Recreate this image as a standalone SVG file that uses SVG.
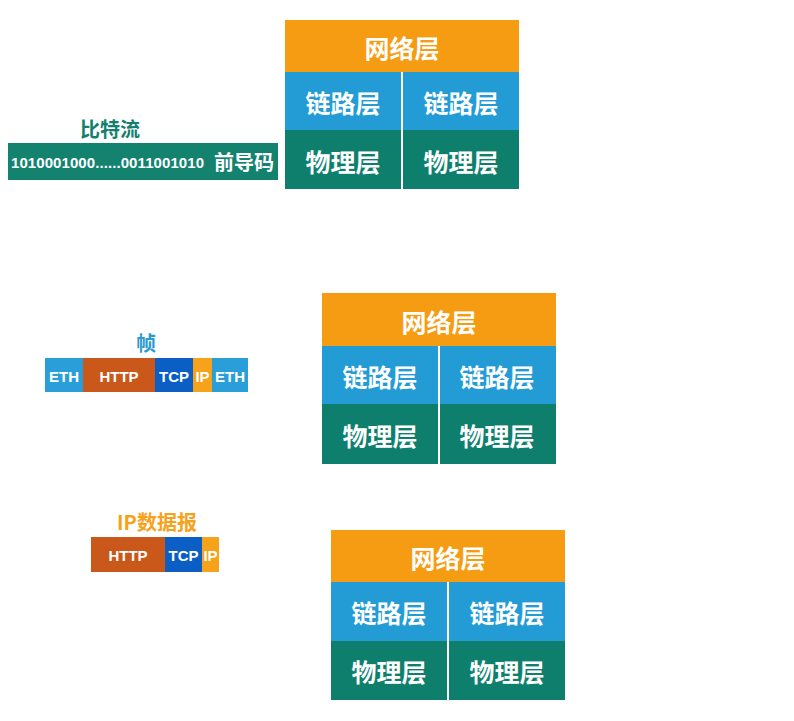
<svg xmlns="http://www.w3.org/2000/svg" width="794" height="721" viewBox="0 0 794 721">
<style>
.bg{fill:#ffffff}
.net{fill:#F59C12}
.link{fill:#239CD6}
.phy{fill:#0F7F6D}
.div{stroke:#ffffff;stroke-width:2}
.lbl{font-family:"Noto Sans CJK SC","Noto Sans",sans-serif;font-weight:bold;fill:#ffffff;font-size:25px;text-anchor:middle;dominant-baseline:central}
.seg{font-family:"Liberation Sans","Noto Sans CJK SC",sans-serif;font-weight:bold;fill:#ffffff;font-size:15px;text-anchor:middle;dominant-baseline:central}
.ttl{font-family:"Noto Sans CJK SC","Noto Sans",sans-serif;font-weight:bold;font-size:20px;text-anchor:middle}
.eth{fill:#2A9ED8}
.http{fill:#C9581A}
.tcp{fill:#0B5EC4}
.ip{fill:#F7A21B}
</style>
<rect class="bg" x="0" y="0" width="794" height="721"/>

<g id="stack1">
<rect class="net" x="285" y="20" width="234" height="52"/>
<rect class="link" x="285" y="72" width="234" height="58"/>
<rect class="phy" x="285" y="130" width="234" height="59"/>
<line class="div" x1="402" y1="72" x2="402" y2="189"/>
<text class="lbl" x="402" y="47">网络层</text>
<text class="lbl" x="343" y="102">链路层</text>
<text class="lbl" x="461" y="102">链路层</text>
<text class="lbl" x="343" y="161">物理层</text>
<text class="lbl" x="461" y="161">物理层</text>
</g>

<g id="stack2">
<rect class="net" x="322" y="293" width="234" height="53"/>
<rect class="link" x="322" y="346" width="234" height="58"/>
<rect class="phy" x="322" y="404" width="234" height="60"/>
<line class="div" x1="439" y1="346" x2="439" y2="464"/>
<text class="lbl" x="439" y="321">网络层</text>
<text class="lbl" x="380" y="376">链路层</text>
<text class="lbl" x="497" y="376">链路层</text>
<text class="lbl" x="380" y="435">物理层</text>
<text class="lbl" x="497" y="435">物理层</text>
</g>

<g id="stack3">
<rect class="net" x="331" y="530" width="234" height="52"/>
<rect class="link" x="331" y="582" width="234" height="59"/>
<rect class="phy" x="331" y="641" width="234" height="59"/>
<line class="div" x1="448" y1="582" x2="448" y2="700"/>
<text class="lbl" x="448" y="557">网络层</text>
<text class="lbl" x="389" y="612">链路层</text>
<text class="lbl" x="507" y="612">链路层</text>
<text class="lbl" x="389" y="671">物理层</text>
<text class="lbl" x="507" y="671">物理层</text>
</g>

<g id="bitstream">
<text class="ttl" x="110" y="137" fill="#13806E">比特流</text>
<rect x="8" y="143" width="270" height="37" fill="#13826F"/>
<text x="11" y="162" font-family="Liberation Sans,sans-serif" font-weight="bold" font-size="15" fill="#ffffff" dominant-baseline="central" textLength="193">1010001000......0011001010</text>
<text x="244" y="161" font-family="Noto Sans CJK SC,sans-serif" font-weight="bold" font-size="20" fill="#ffffff" text-anchor="middle" dominant-baseline="central">前导码</text>
</g>

<g id="frame">
<text class="ttl" x="146" y="351" fill="#2A9AD0">帧</text>
<rect class="eth" x="45" y="358" width="38" height="34"/>
<rect class="http" x="83" y="358" width="72" height="34"/>
<rect class="tcp" x="155" y="358" width="38" height="34"/>
<rect class="ip" x="193" y="358" width="19" height="34"/>
<rect class="eth" x="212" y="358" width="36" height="34"/>
<text class="seg" x="64" y="376">ETH</text>
<text class="seg" x="119" y="376">HTTP</text>
<text class="seg" x="174" y="376">TCP</text>
<text class="seg" x="202.5" y="376">IP</text>
<text class="seg" x="230" y="376">ETH</text>
</g>

<g id="ipdatagram">
<text class="ttl" x="157" y="530" fill="#F7A21B">IP数据报</text>
<rect class="http" x="91" y="537" width="74" height="35"/>
<rect class="tcp" x="165" y="537" width="37" height="35"/>
<rect class="ip" x="202" y="537" width="17" height="35"/>
<text class="seg" x="128" y="555">HTTP</text>
<text class="seg" x="183.5" y="555">TCP</text>
<text class="seg" x="210.5" y="555">IP</text>
</g>

<g id="connectors"></g>
</svg>
